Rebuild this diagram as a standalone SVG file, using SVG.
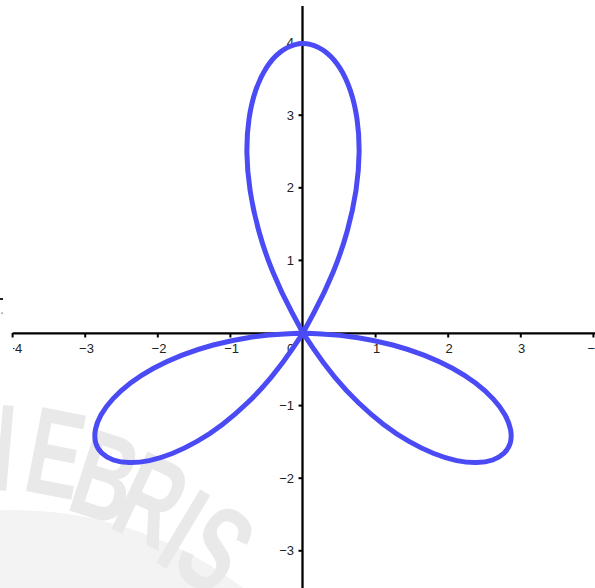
<svg xmlns="http://www.w3.org/2000/svg" width="595" height="588" viewBox="0 0 595 588">
  <style>
    .wm { fill: #e9e9e9; font-family: "Liberation Sans", Arial, sans-serif; font-weight: bold; font-size: 124px; text-anchor: middle; }
    .axis { stroke: #000; stroke-width: 2.3; fill: none; }
    .tick { stroke: #000; stroke-width: 2; }
    .lbl { font-family: "Liberation Sans", Arial, sans-serif; font-size: 13px; fill: #222; }
    .xl { text-anchor: middle; }
    .yl { text-anchor: end; }
    .curve { fill: none; stroke: #4b4bf5; stroke-width: 5; stroke-linejoin: round; stroke-linecap: round; }
  </style>
  <defs>
    <clipPath id="leftClip"><rect x="13" y="0" width="582" height="588"/></clipPath>
    <path id="petalR" d="M 303 333 L 321.5 334.0 Q 340.0 334.9 358.0 337.7 Q 376.0 340.5 392.8 345.0 Q 409.5 349.5 424.5 355.4 Q 439.5 361.3 452.4 368.3 Q 465.2 375.3 475.5 383.1 Q 485.7 390.9 493.1 398.9 Q 500.5 406.9 504.9 414.7 Q 509.3 422.5 510.6 429.7 Q 511.9 436.8 510.3 442.8 Q 508.6 448.7 504.2 453.1 Q 499.7 457.5 492.7 460.0 Q 485.7 462.4 476.6 462.6 Q 467.4 462.8 456.6 460.6 Q 445.8 458.3 433.8 453.5 Q 421.7 448.7 409.0 441.4 Q 396.3 434.1 383.6 424.4 Q 370.8 414.7 358.5 402.8 Q 346.1 390.9 334.7 377.1 Q 323.2 363.3 313.1 348.2 L 303 333"/>
  </defs>
  <rect x="0" y="0" width="595" height="588" fill="#fff"/>

  <!-- watermark -->
  <g id="watermark">
    <circle cx="12" cy="892" r="382" fill="#f3f3f3"/>
    <text class="wm" transform="translate(-14,445) rotate(5) scale(0.66,1)" y="44">N</text>
    <text class="wm" transform="translate(56,452) rotate(11) scale(0.66,1)" y="44">E</text>
    <text class="wm" transform="translate(106,476) rotate(18) scale(0.66,1)" y="44">B</text>
    <text class="wm" transform="translate(152,499) rotate(25) scale(0.66,1)" y="44">R</text>
    <text class="wm" transform="translate(184,528) rotate(31) scale(0.66,1)" y="44">I</text>
    <text class="wm" transform="translate(216,548) rotate(37) scale(0.66,1)" y="44">S</text>
  </g>

  <!-- axes -->
  <g id="axes">
    <line class="axis" x1="12.6" y1="333.3" x2="595" y2="333.3"/>
    <line class="axis" x1="302.5" y1="6" x2="302.5" y2="588"/>
    <g class="tick">
      <line x1="12.6" y1="333" x2="12.6" y2="337.5"/>
      <line x1="85.2" y1="333" x2="85.2" y2="337.5"/>
      <line x1="157.8" y1="333" x2="157.8" y2="337.5"/>
      <line x1="230.4" y1="333" x2="230.4" y2="337.5"/>
      <line x1="375.6" y1="333" x2="375.6" y2="337.5"/>
      <line x1="448.2" y1="333" x2="448.2" y2="337.5"/>
      <line x1="520.8" y1="333" x2="520.8" y2="337.5"/>
      <line x1="593.4" y1="333" x2="593.4" y2="337.5"/>
      <line x1="298.5" y1="42.6" x2="302.5" y2="42.6"/>
      <line x1="298.5" y1="115.2" x2="302.5" y2="115.2"/>
      <line x1="298.5" y1="187.8" x2="302.5" y2="187.8"/>
      <line x1="298.5" y1="260.4" x2="302.5" y2="260.4"/>
      <line x1="298.5" y1="405.6" x2="302.5" y2="405.6"/>
      <line x1="298.5" y1="478.2" x2="302.5" y2="478.2"/>
      <line x1="298.5" y1="550.8" x2="302.5" y2="550.8"/>
    </g>
    <rect x="0" y="298" width="3" height="2" fill="#222"/>
    <rect x="1.5" y="312.5" width="1.2" height="1.2" fill="#555"/>
  </g>

  <!-- labels -->
  <g id="labels" class="lbl">
    <text class="xl" x="14.8" y="353" clip-path="url(#leftClip)">−4</text>
    <text class="xl" x="86.5" y="353">−3</text>
    <text class="xl" x="159" y="353">−2</text>
    <text class="xl" x="231.6" y="353">−1</text>
    <text class="xl" x="290.5" y="353">0</text>
    <text class="xl" x="376.5" y="353">1</text>
    <text class="xl" x="449" y="353">2</text>
    <text class="xl" x="521.6" y="353">3</text>
    <text class="xl" x="595" y="353">−4</text>
    <text class="yl" x="294" y="47.2">4</text>
    <text class="yl" x="294" y="119.8">3</text>
    <text class="yl" x="294" y="192.4">2</text>
    <text class="yl" x="294" y="265">1</text>
    <text class="yl" x="294" y="410.2">−1</text>
    <text class="yl" x="294" y="482.8">−2</text>
    <text class="yl" x="294" y="555.4">−3</text>
  </g>

  <!-- rose curve -->
  <g id="curve">
    <path class="curve" d="M 303 333 L 313.9 312.8 Q 324.8 292.5 333.3 271.8 Q 341.7 251.1 347.4 230.5 Q 353.0 209.9 356.0 190.3 Q 358.9 170.6 359.1 152.7 Q 359.3 134.7 357.0 119.0 Q 354.7 103.2 350.3 90.4 Q 345.9 77.5 339.8 67.9 Q 333.6 58.3 326.3 52.5 Q 318.9 46.6 311.0 44.6 Q 303 42.6 295.1 44.6 Q 287.1 46.6 279.8 52.5 Q 272.4 58.3 266.3 67.9 Q 260.1 77.5 255.7 90.4 Q 251.3 103.2 249.0 119.0 Q 246.7 134.7 246.9 152.7 Q 247.1 170.6 250.1 190.3 Q 253.0 209.9 258.7 230.5 Q 264.3 251.1 272.8 271.8 Q 281.2 292.5 292.1 312.8 L 303 333"/>
    <use href="#petalR" class="curve"/>
    <use href="#petalR" class="curve" transform="translate(606,0) scale(-1,1)"/>
  </g>
</svg>
